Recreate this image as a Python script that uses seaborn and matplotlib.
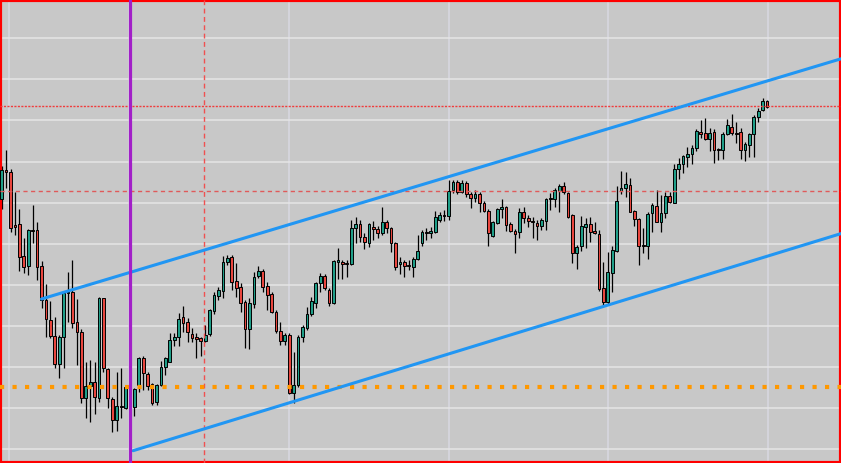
import numpy as np
import pandas as pd
import matplotlib
matplotlib.use("Agg")
import matplotlib.pyplot as plt
import seaborn as sns

# OHLC (one row per bar, arbitrary price units)
opens = [301, 330, 327.7, 275, 275.7, 244, 234.3, 270, 269.7, 233.7,
         200, 180, 164.3, 135.7, 163.3, 206.7, 208, 177.7, 167.7, 101.7,
         114.3, 117.7, 102.3, 201.7, 130.7, 101, 79.7, 93.7, 92.3, 141.7,
         93.3, 115, 141.7, 126.3, 115.7, 97.7, 115, 133.3, 138.3, 160.3,
         162.7, 183, 177.7, 166, 162.7, 161.7, 159.3, 166, 189.3, 204.3,
         209.3, 237.7, 243, 219, 213, 197.7, 171, 195.7, 224, 229,
         214, 205.7, 187.7, 169, 159.3, 165, 107.3, 115, 162.7, 171.7,
         186, 197.3, 216.7, 224.3, 210, 196.7, 238.3, 238, 236.3, 235.7,
         271.7, 276, 263.3, 256.7, 273.3, 270.7, 266.7, 278.3, 272.5, 256.7,
         235.7, 237.7, 234.3, 233.3, 240.7, 257.3, 268.3, 266.7, 268.3, 280,
         285, 284.3, 310, 318, 308.3, 316.7, 305.7, 301.7, 305.7, 296.7,
         289.3, 264.3, 276.7, 290.7, 292.7, 275.7, 269, 268.3, 287.7, 281.7,
         278.5, 276.7, 274.3, 279.3, 300.7, 300.7, 309.3, 314.3, 306.7, 285,
         247.3, 254.3, 273.3, 275.7, 269, 265.7, 211.7, 198.3, 226.7, 249,
         309, 311.7, 315, 289, 280.7, 255, 254, 286.7, 294, 278.3,
         286.7, 304.3, 297.3, 331, 335.7, 343.3, 345.7, 351.7, 368.3, 366.7,
         361, 367.7, 350.7, 350, 365.7, 373.3, 367.3, 367.7, 350, 355,
         365.7, 382.7, 389.7, 399]
highs = [334.3, 350, 331, 308.3, 291, 261.7, 271, 295, 278.3, 239,
         215.7, 199, 183, 165, 208.3, 228.3, 240, 201, 171, 137.7,
         140, 137.7, 203, 202.3, 131.7, 103.3, 127.7, 131.7, 115, 151,
         112.3, 143.3, 144.3, 128.3, 116.7, 115.7, 139, 143.3, 166.7, 166.7,
         186.7, 193.7, 182.3, 171.7, 166.7, 163.3, 175, 190.7, 207.7, 213.3,
         244.3, 245, 245, 236.7, 216.7, 200, 201.7, 228.3, 234.3, 231,
         218.3, 208.3, 190, 178.3, 166.7, 166.7, 148.3, 165, 175, 193.3,
         203.3, 218.3, 226.7, 226, 211.7, 240, 251.7, 240, 240, 280,
         283.3, 280, 266.7, 277.5, 279.5, 274.5, 292.7, 280, 273.3, 258.3,
         242.7, 240, 240, 242.7, 265, 270, 271.7, 273.3, 289.3, 288.3,
         290, 320, 320, 320, 320, 319, 308.3, 310, 308.3, 299,
         291, 279, 291.7, 301, 294.3, 278.3, 271, 292.3, 292.7, 285,
         283.3, 280, 281.7, 302.3, 306.7, 312.3, 315.7, 318.3, 308.3, 285.7,
         255, 284.3, 281.7, 283.3, 278.3, 270, 237.7, 248.3, 254.3, 314.3,
         329, 327.7, 322.3, 290, 281.7, 272.3, 288.3, 296.7, 310, 305,
         308.3, 308.3, 335.7, 341.7, 345, 353.3, 355, 371, 380, 381.7,
         371.7, 371, 351.7, 367.7, 381, 385.7, 378.3, 371.7, 358.3, 366.7,
         385, 391.7, 401.7, 400]
lows = [291, 312, 268.3, 265, 229, 226.7, 225, 257.3, 220, 192.3,
        163.3, 162.3, 132.3, 121.7, 132.3, 178.3, 172.3, 135, 96.7, 82.3,
        77.7, 85.7, 98.3, 128.3, 91.7, 67.7, 69.3, 81.7, 91, 90,
        84.3, 108.3, 110, 110, 95, 95, 114.3, 125, 137.7, 154.3,
        154.3, 167.7, 158.3, 158.3, 141.7, 144.3, 158, 164.3, 186, 200,
        202.3, 235, 210, 203.3, 188.3, 152.3, 150.7, 191.7, 221.7, 208.3,
        190, 186.7, 166.7, 155, 155, 105.7, 97.3, 113.3, 158.3, 170,
        184, 192.3, 208.3, 210, 194, 196, 220.7, 221, 223.3, 235,
        257.3, 258.3, 250.7, 253.5, 259.7, 261.7, 265.5, 267, 248.3, 230.3,
        226, 222.7, 230, 223.3, 240, 254, 260, 261.7, 266.7, 277.7,
        279.3, 280, 306.7, 305.7, 306.7, 303.3, 291.7, 297.7, 288.3, 287.7,
        254.3, 263.3, 275.7, 281.7, 269, 267.7, 247.3, 261.7, 276.7, 273.3,
        262.3, 260, 270, 270, 290, 292.7, 287.7, 305.7, 281.7, 236.7,
        230.7, 249, 252.3, 258.3, 265.7, 209, 194.3, 195, 208.3, 248.3,
        305.7, 303.3, 287.7, 274.3, 235, 246.7, 240.7, 267.7, 277.7, 267.7,
        282.3, 296.7, 296.7, 321, 326.7, 333.3, 335.7, 349, 361.7, 360,
        349, 337.3, 340, 341, 365, 365, 357, 341, 339.3, 343.3,
        343.3, 378.3, 389, 391.7]
closes = [330, 327.7, 272.3, 273.3, 243.3, 233.3, 270, 269.3, 233.3, 199.7,
          180.7, 164.3, 135.7, 163.3, 206.7, 208, 177.3, 167.7, 101.7, 114,
          117.7, 103.3, 201.7, 131.7, 101.7, 79.7, 94, 93, 112.7, 93.3,
          110.7, 141.7, 127.3, 114.3, 96.7, 115, 132.7, 141.7, 160, 162.7,
          181, 177.3, 167.7, 162.3, 161.3, 159.3, 164.7, 190, 205, 210,
          237.7, 241.7, 218.3, 212.3, 197.3, 171, 196.7, 223.3, 229, 213.3,
          205, 188.3, 169.3, 159.3, 165, 107.3, 115, 162.7, 173.3, 185.7,
          199, 216.7, 224, 211.7, 196.7, 239, 240, 236, 235.7, 271.7,
          276, 263.3, 258.3, 276, 271, 267.5, 278.3, 272.5, 256.7, 233.3,
          238, 234, 233.7, 240.7, 249.3, 268.3, 267, 269, 282.7, 285,
          284.5, 309.3, 317.7, 308.3, 316.7, 305.7, 301.7, 305.7, 296.7, 289.3,
          266.7, 278.3, 291, 293, 275, 269, 265.7, 287.7, 281.7, 279,
          278, 274.3, 280, 301, 302, 310, 314, 307.7, 283.3, 247.3,
          253.3, 274, 275.7, 268.3, 266.7, 210.7, 198.3, 227.7, 249.7, 299,
          311.7, 315.7, 288.3, 280.7, 254.3, 254.3, 286, 295, 278.3, 287.3,
          304.3, 297.7, 331, 336, 344, 345.7, 352.3, 369, 366, 360.7,
          366.7, 350, 349.7, 365.7, 375, 366.7, 366, 350, 355.7, 365.7,
          382.7, 389, 399, 393.3]

# drawn channel anchors (bar index, price)
upper_x = [9.0, 189.7]
upper_y = [201.0, 441.2]
lower_x = [29.7, 189.7]
lower_y = [49.3, 266.4]

purple_bar = 29
dashed_bar = 45.8
month_bars = [1.7, 28.8, 65.0, 101.0, 137.1, 173.1]
level_dash = 308.6
level_dot = 394.0
level_orange = 113.3

df = pd.DataFrame({'open': opens, 'high': highs, 'low': lows, 'close': closes})
df['bar'] = np.arange(len(df))
df['up'] = df['close'] >= df['open']
df['bottom'] = df[['open', 'close']].min(axis=1)
df['height'] = (df['close'] - df['open']).abs().clip(lower=0.9)

sns.set_style('white', {'axes.facecolor': '#c8c8c8'})

fig = plt.figure(figsize=(8.41, 4.63), dpi=100)
ax = fig.add_axes([0, 0, 1, 1])

# grid
ax.set_yticks(461.8 - 41.12 * np.arange(11))
ax.set_xticks(month_bars)
ax.grid(axis='y', color='#e6e6e6', lw=1.1, zorder=0)
ax.grid(axis='x', color='#d8d8e2', lw=1.1, zorder=0)
ax.tick_params(length=0, labelbottom=False, labelleft=False)

# candles
ax.vlines(df['bar'], df['low'], df['high'], color='black', lw=0.9, zorder=2)
colors = np.where(df['up'], '#1f9e88', '#e8463e')
ax.bar(df['bar'], df['height'], bottom=df['bottom'], width=0.62,
       color=colors, edgecolor='black', linewidth=0.7, zorder=3)

# annotations
ax.axhline(level_dash, color='#e05a5a', lw=1, dashes=(3, 2.5), zorder=4)
ax.axhline(level_dot, color='#f03c3c', lw=1, dashes=(1.5, 1), zorder=4)
ax.axvline(dashed_bar, color='#f05050', lw=1, dashes=(3.5, 2.5), zorder=4)
ax.axhline(level_orange, color='#ff9800', lw=3, dashes=(1, 2), zorder=5)
sns.lineplot(x=upper_x, y=upper_y, ax=ax, color='#2196f3', lw=2.2, zorder=5)
sns.lineplot(x=lower_x, y=lower_y, ax=ax, color='#2196f3', lw=2.2, zorder=5)
ax.axvline(purple_bar, color='#a21fc8', lw=2.3, zorder=6)

ax.set_xlim(-0.38, 189.7)
ax.set_ylim(37, 500)
for s in ax.spines.values():
    s.set_color('red')
    s.set_linewidth(3)
    s.set_visible(True)

fig.savefig('out.png', dpi=100)
